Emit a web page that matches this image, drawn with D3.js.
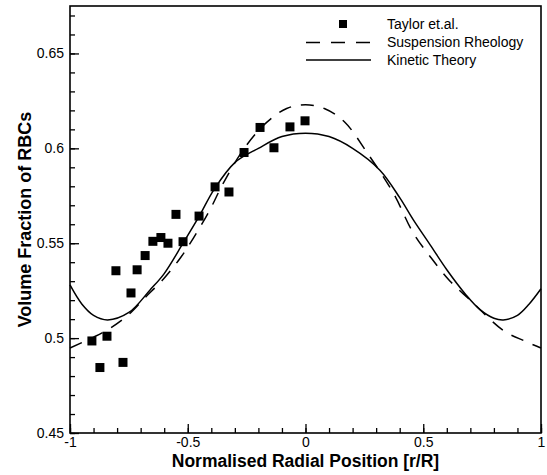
<!DOCTYPE html>
<html>
<head>
<meta charset="utf-8">
<script src="https://cdn.jsdelivr.net/npm/d3@7"></script>
<style>
  body { margin: 0; background: #fff; }
  svg { display: block; font-family: "Liberation Sans", Arial, sans-serif; }
</style>
</head>
<body>
<div id="graph"></div>
<script>
// Taylor et.al. measurements
const taylorX = [-0.907, -0.873, -0.843, -0.805, -0.775, -0.741, -0.715, -0.681, -0.648, -0.614,
                 -0.584, -0.550, -0.520, -0.452, -0.384, -0.325, -0.261, -0.193, -0.134, -0.066, -0.002];
const taylorY = [0.4985, 0.4845, 0.5010, 0.5355, 0.4872, 0.5238, 0.5360, 0.5435, 0.5510, 0.5530,
                 0.5500, 0.5652, 0.5508, 0.5643, 0.5797, 0.5770, 0.5978, 0.6110, 0.6003, 0.6113, 0.6145];

// Suspension Rheology (dashed)
const suspX = [-1, -0.9, -0.83, -0.75, -0.68, -0.604, -0.53, -0.476, -0.406, -0.349, -0.26, -0.165,
               -0.08, 0, 0.08, 0.165, 0.26, 0.373, 0.458, 0.529, 0.614, 0.7, 0.84, 0.93, 1];
const suspY = [0.4948, 0.5005, 0.5052, 0.5125, 0.5215, 0.5310, 0.5425, 0.5527, 0.5676, 0.5817, 0.6000, 0.6137,
               0.6210, 0.6230, 0.6210, 0.6140, 0.5980, 0.5764, 0.5553, 0.5430, 0.5300, 0.5200, 0.5040, 0.4985, 0.4948];

// Kinetic Theory (solid)
const kinX = [-1, -0.95, -0.9, -0.84, -0.75, -0.66, -0.6, -0.52, -0.45, -0.39, -0.3, -0.2, -0.1, 0,
              0.1, 0.2, 0.316, 0.4, 0.458, 0.53, 0.6, 0.68, 0.741, 0.8, 0.84, 0.9, 0.95, 1];
const kinY = [0.528, 0.518, 0.512, 0.5096, 0.5135, 0.5254, 0.534, 0.550, 0.5645, 0.578, 0.5925, 0.600, 0.6062, 0.608,
              0.6062, 0.600, 0.5885, 0.574, 0.5623, 0.549, 0.536, 0.523, 0.515, 0.5105, 0.5096, 0.512, 0.518, 0.526];

const xTicks = [-1, -0.5, 0, 0.5, 1];
const xTickLabels = ["-1", "-0.5", "0", "0.5", "1"];
const yTicks = [0.45, 0.5, 0.55, 0.6, 0.65];
const yTickLabels = ["0.45", "0.5", "0.55", "0.6", "0.65"];

const legendNames = ["Taylor et.al.", "Suspension Rheology", "Kinetic Theory"];

var W = 547, H = 475;
var margin = { top: 6, right: 6, bottom: 42, left: 70 };

const x = d3.scaleLinear().domain([-1, 1]).range([margin.left, W - margin.right]);
const y = d3.scaleLinear().domain([0.45, 0.675]).range([H - margin.bottom, margin.top]);

const svg = d3.select("#graph").append("svg")
    .attr("width", W)
    .attr("height", H);

// minor ticks
svg.append("g")
    .attr("transform", `translate(0,${y(0.45)})`)
    .call(d3.axisBottom(x).tickValues(d3.range(-10, 11).map(d => d / 10)).tickSize(-5).tickFormat(""))
    .call(g => g.select(".domain").remove());
svg.append("g")
    .attr("transform", `translate(${x(-1)},0)`)
    .call(d3.axisLeft(y).tickValues(d3.range(45, 68).map(d => d / 100)).tickSize(-5).tickFormat(""))
    .call(g => g.select(".domain").remove());

// major ticks
svg.append("g")
    .attr("transform", `translate(0,${y(0.45)})`)
    .call(d3.axisBottom(x).tickValues(xTicks).tickSize(-9).tickPadding(5)
        .tickFormat((d, i) => xTickLabels[i]))
    .call(g => g.select(".domain").remove())
    .call(g => g.selectAll("text").attr("y", 4).attr("dy", "0.71em")
        .style("font-size", "14px").attr("fill", "#000"));
svg.append("g")
    .attr("transform", `translate(${x(-1)},0)`)
    .call(d3.axisLeft(y).tickValues(yTicks).tickSize(-9).tickPadding(6)
        .tickFormat((d, i) => yTickLabels[i]))
    .call(g => g.select(".domain").remove())
    .call(g => g.selectAll("text").style("font-size", "14px").attr("fill", "#000"));

svg.selectAll(".tick line").attr("stroke", "#000").attr("stroke-width", 1.3);

// frame
svg.append("rect")
    .attr("x", x(-1)).attr("y", y(0.675))
    .attr("width", x(1) - x(-1)).attr("height", y(0.45) - y(0.675))
    .attr("fill", "none").attr("stroke", "#000").attr("stroke-width", 1.6);

const line = d3.line()
    .x(d => x(d[0])).y(d => y(d[1]))
    .curve(d3.curveCatmullRom.alpha(0.5));

svg.append("path")
    .datum(suspX.map((d, i) => [d, suspY[i]]))
    .attr("d", line)
    .attr("fill", "none").attr("stroke", "#000").attr("stroke-width", 1.5)
    .attr("stroke-dasharray", "13,10");

svg.append("path")
    .datum(kinX.map((d, i) => [d, kinY[i]]))
    .attr("d", line)
    .attr("fill", "none").attr("stroke", "#000").attr("stroke-width", 1.5);

const s = 9;
svg.append("g")
  .selectAll("rect")
  .data(taylorX.map((d, i) => [d, taylorY[i]]))
  .join("rect")
    .attr("x", d => x(d[0]) - s / 2)
    .attr("y", d => y(d[1]) - s / 2)
    .attr("width", s).attr("height", s)
    .attr("fill", "#000");

// legend
const leg = svg.append("g").style("font-size", "14px");
leg.append("rect").attr("x", 339).attr("y", 20).attr("width", 8).attr("height", 8).attr("fill", "#000");
leg.append("line").attr("x1", 306).attr("x2", 371).attr("y1", 42.5).attr("y2", 42.5)
    .attr("stroke", "#000").attr("stroke-width", 1.5).attr("stroke-dasharray", "14,11");
leg.append("line").attr("x1", 306).attr("x2", 371).attr("y1", 60).attr("y2", 60)
    .attr("stroke", "#000").attr("stroke-width", 1.5);
leg.selectAll("text")
  .data(legendNames)
  .join("text")
    .attr("x", 387)
    .attr("y", (d, i) => 29 + i * 18)
    .text(d => d);

// axis titles
svg.append("text")
    .attr("x", (x(-1) + x(1)) / 2)
    .attr("y", 467)
    .attr("text-anchor", "middle")
    .style("font-size", "17.5px").style("font-weight", "bold")
    .text("Normalised Radial Position [r/R]");

svg.append("text")
    .attr("transform", `translate(31,${(y(0.45) + y(0.675)) / 2}) rotate(-90)`)
    .attr("text-anchor", "middle")
    .style("font-size", "18px").style("font-weight", "bold")
    .text("Volume Fraction of RBCs");
</script>
</body>
</html>
